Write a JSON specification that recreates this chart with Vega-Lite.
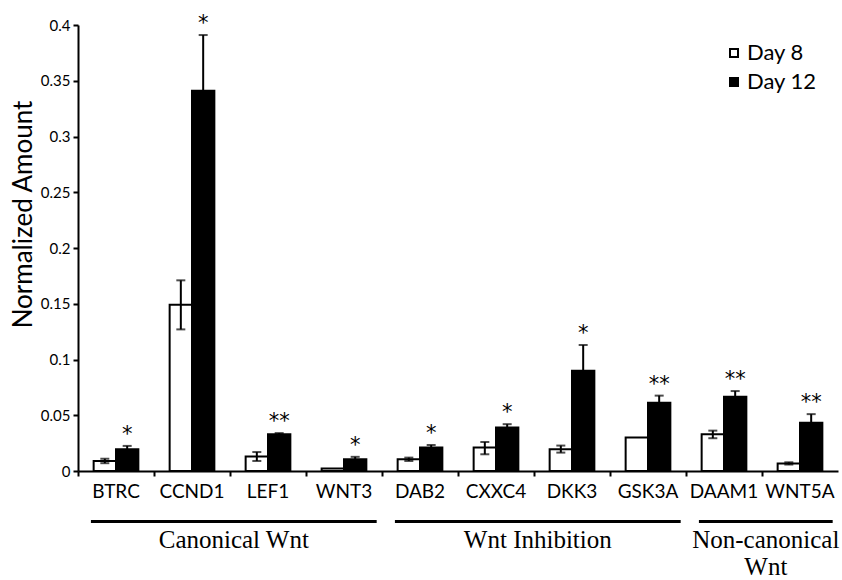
{
  "$schema": "https://vega.github.io/schema/vega-lite/v6.json",
  "width": 760,
  "height": 446,
  "autosize": {"type": "none"},
  "padding": {"left": 78, "top": 25, "right": 4, "bottom": 109},
  "background": "white",
  "config": {"view": {"stroke": null}, "font": "Lato"},
  "datasets": {
    "genes": [
      {"gene": "BTRC", "day": "Day 8", "mean": 0.009, "lo": 0.007, "hi": 0.011, "sig": ""},
      {"gene": "BTRC", "day": "Day 12", "mean": 0.0195, "lo": 0.0165, "hi": 0.0225, "sig": "*"},
      {"gene": "CCND1", "day": "Day 8", "mean": 0.149, "lo": 0.127, "hi": 0.171, "sig": ""},
      {"gene": "CCND1", "day": "Day 12", "mean": 0.341, "lo": 0.291, "hi": 0.391, "sig": "*"},
      {"gene": "LEF1", "day": "Day 8", "mean": 0.013, "lo": 0.009, "hi": 0.017, "sig": ""},
      {"gene": "LEF1", "day": "Day 12", "mean": 0.033, "lo": 0.032, "hi": 0.034, "sig": "**"},
      {"gene": "WNT3", "day": "Day 8", "mean": 0.0022, "lo": null, "hi": null, "sig": ""},
      {"gene": "WNT3", "day": "Day 12", "mean": 0.0105, "lo": 0.0085, "hi": 0.0127, "sig": "*"},
      {"gene": "DAB2", "day": "Day 8", "mean": 0.0105, "lo": 0.009, "hi": 0.012, "sig": ""},
      {"gene": "DAB2", "day": "Day 12", "mean": 0.021, "lo": 0.019, "hi": 0.0233, "sig": "*"},
      {"gene": "CXXC4", "day": "Day 8", "mean": 0.021, "lo": 0.015, "hi": 0.026, "sig": ""},
      {"gene": "CXXC4", "day": "Day 12", "mean": 0.039, "lo": 0.036, "hi": 0.042, "sig": "*"},
      {"gene": "DKK3", "day": "Day 8", "mean": 0.0195, "lo": 0.0165, "hi": 0.0228, "sig": ""},
      {"gene": "DKK3", "day": "Day 12", "mean": 0.09, "lo": 0.067, "hi": 0.113, "sig": "*"},
      {"gene": "GSK3A", "day": "Day 8", "mean": 0.03, "lo": null, "hi": null, "sig": ""},
      {"gene": "GSK3A", "day": "Day 12", "mean": 0.0613, "lo": 0.0553, "hi": 0.0676, "sig": "**"},
      {"gene": "DAAM1", "day": "Day 8", "mean": 0.0329, "lo": 0.0294, "hi": 0.0362, "sig": ""},
      {"gene": "DAAM1", "day": "Day 12", "mean": 0.0667, "lo": 0.0617, "hi": 0.0717, "sig": "**"},
      {"gene": "WNT5A", "day": "Day 8", "mean": 0.0068, "lo": 0.0058, "hi": 0.0078, "sig": ""},
      {"gene": "WNT5A", "day": "Day 12", "mean": 0.0433, "lo": 0.0353, "hi": 0.051, "sig": "**"}
    ],
    "groups": [
      {"group": "Canonical Wnt", "first": "BTRC", "last": "WNT3", "center": "LEF1"},
      {"group": "Wnt Inhibition", "first": "DAB2", "last": "GSK3A", "center": "DKK3"},
      {"group": "Non-canonical\nWnt", "first": "DAAM1", "last": "WNT5A", "center": "WNT5A"}
    ]
  },
  "encoding": {
    "x": {
      "field": "gene",
      "type": "nominal",
      "scale": {
        "domain": ["BTRC", "CCND1", "LEF1", "WNT3", "DAB2", "CXXC4", "DKK3", "GSK3A", "DAAM1", "WNT5A"],
        "paddingInner": 0,
        "paddingOuter": 0
      },
      "axis": {
        "title": null,
        "labelAngle": 0,
        "labelFont": "Lato",
        "labelFontSize": 19,
        "labelColor": "black",
        "labelPadding": 6,
        "tickSize": 5,
        "tickWidth": 2,
        "tickColor": "black",
        "domainColor": "black",
        "domainWidth": 2,
        "bandPosition": 0
      }
    }
  },
  "layer": [
    {
      "data": {"name": "genes"},
      "mark": {"type": "bar", "stroke": "black", "strokeWidth": 2},
      "encoding": {
        "xOffset": {
          "field": "day",
          "type": "nominal",
          "scale": {"domain": ["Day 8", "Day 12"], "paddingInner": 0, "paddingOuter": 0.7}
        },
        "y": {
          "field": "mean",
          "type": "quantitative",
          "scale": {"domain": [0, 0.4], "nice": false},
          "axis": {
            "title": "Normalized Amount",
            "titleFont": "Lato",
            "titleFontSize": 26,
            "titleFontWeight": "normal",
            "titleColor": "black",
            "titlePadding": 4,
            "titleY": 189,
            "values": [0, 0.05, 0.1, 0.15, 0.2, 0.25, 0.3, 0.35, 0.4],
            "format": "~g",
            "labelFont": "Lato",
            "labelFontSize": 15,
            "labelColor": "black",
            "labelPadding": 3,
            "tickSize": 5,
            "tickWidth": 2,
            "tickColor": "black",
            "domainColor": "black",
            "domainWidth": 2,
            "grid": false
          }
        },
        "fill": {
          "field": "day",
          "type": "nominal",
          "scale": {"domain": ["Day 8", "Day 12"], "range": ["white", "black"]},
          "legend": {
            "title": null,
            "orient": "none",
            "legendX": 645,
            "legendY": 17,
            "padding": 0,
            "symbolType": "square",
            "symbolSize": 64,
            "symbolStrokeColor": "black",
            "symbolStrokeWidth": 2,
            "labelFont": "Lato",
            "labelFontSize": 22,
            "labelColor": "black",
            "labelOffset": 2,
            "rowPadding": 7
          }
        }
      }
    },
    {
      "data": {"name": "genes"},
      "mark": {"type": "rule", "color": "black", "strokeWidth": 2},
      "encoding": {
        "xOffset": {"field": "day", "type": "nominal"},
        "y": {"field": "lo", "type": "quantitative"},
        "y2": {"field": "hi"}
      }
    },
    {
      "data": {"name": "genes"},
      "mark": {"type": "tick", "color": "black", "thickness": 2, "size": 9},
      "encoding": {
        "xOffset": {"field": "day", "type": "nominal"},
        "y": {"field": "hi", "type": "quantitative"}
      }
    },
    {
      "data": {"name": "genes"},
      "mark": {"type": "tick", "color": "black", "thickness": 2, "size": 9},
      "encoding": {
        "xOffset": {"field": "day", "type": "nominal"},
        "y": {"field": "lo", "type": "quantitative"}
      }
    },
    {
      "data": {"name": "genes"},
      "mark": {"type": "text", "font": "DejaVu Sans", "fontSize": 21, "baseline": "alphabetic", "dy": -5, "color": "black", "letterSpacing": 2},
      "encoding": {
        "xOffset": {"field": "day", "type": "nominal"},
        "y": {"field": "hi", "type": "quantitative"},
        "text": {"field": "sig"}
      }
    },
    {
      "data": {"name": "groups"},
      "mark": {"type": "rule", "color": "black", "strokeWidth": 3},
      "encoding": {
        "x": {"field": "first", "type": "nominal", "bandPosition": 0.17},
        "x2": {"field": "last", "bandPosition": 0.93},
        "y": {"datum": -0.0453}
      }
    },
    {
      "data": {"name": "groups"},
      "mark": {"type": "text", "font": "Liberation Serif", "fontSize": 25, "baseline": "alphabetic", "align": "center", "lineBreak": "\n", "lineHeight": 27, "color": "black"},
      "encoding": {
        "x": {"field": "center", "type": "nominal", "bandPosition": 0.05},
        "y": {"datum": -0.0691},
        "text": {"field": "group"}
      }
    }
  ]
}
